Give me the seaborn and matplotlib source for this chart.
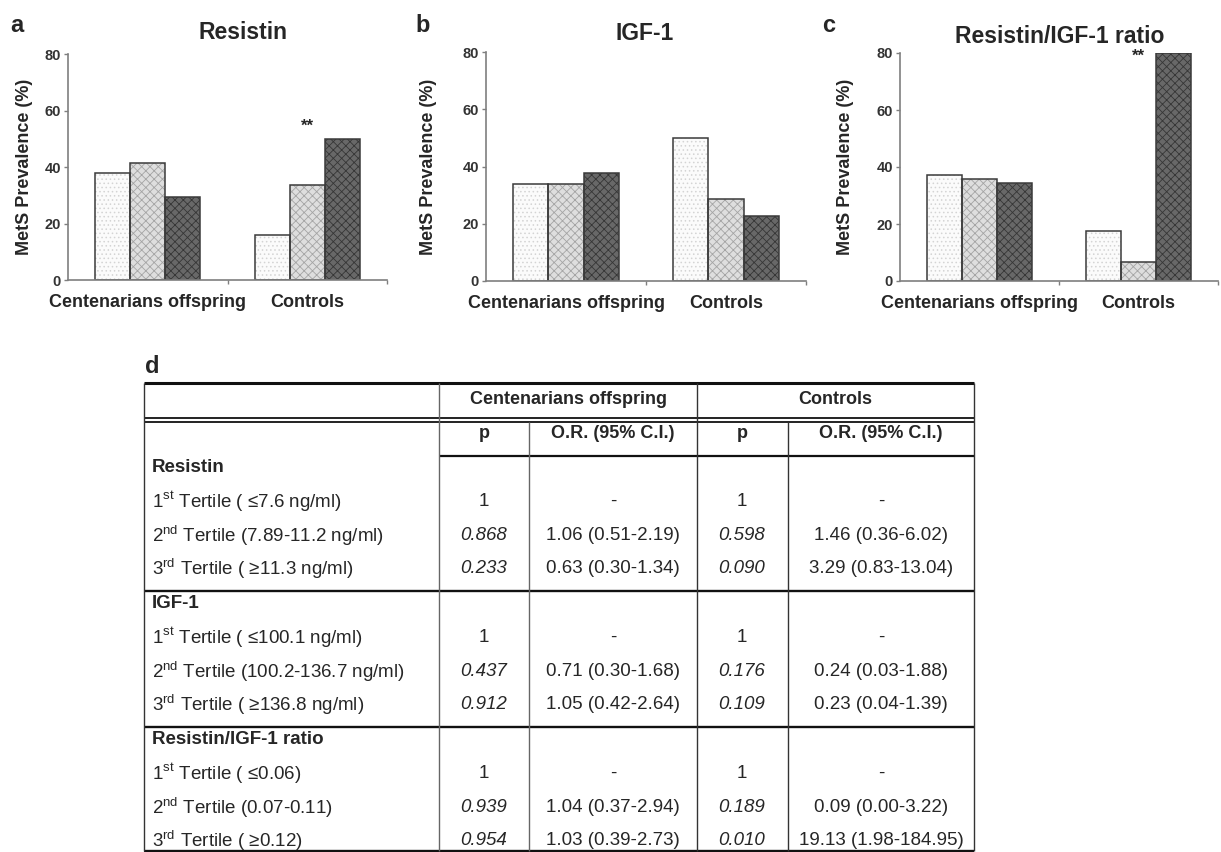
import numpy as np
import pandas as pd

import seaborn as sns
import matplotlib.pyplot as plt
from matplotlib.patches import Rectangle


# ---- bar chart data (MetS prevalence, %) ----
groups = ["Centenarians offspring", "Controls"]
tertiles = ["1st tertile", "2nd tertile", "3rd tertile"]

resistin_offspring = [37.8, 41.3, 29.3]
resistin_controls = [15.9, 33.6, 49.8]

igf1_offspring = [33.8, 33.8, 37.8]
igf1_controls = [49.8, 28.5, 22.7]

ratio_offspring = [37.2, 35.7, 34.5]
ratio_controls = [17.6, 6.8, 80.0]

panel_titles = ["Resistin", "IGF-1", "Resistin/IGF-1 ratio"]
panel_letters = ["a", "b", "c"]
y_ticks = [0, 20, 40, 60, 80]

# "**" marks: (group, tertile index, height) or None
star_marks = [("Controls", 1, 54.5), None, ("Controls", 1, 79)]

# ---- table data ----
markers = ["Resistin", "IGF-1", "Resistin/IGF-1 ratio"]
tertile_ranges = [
    ["( \u22647.6 ng/ml)", "(7.89-11.2 ng/ml)", "( \u226511.3 ng/ml)"],
    ["( \u2264100.1 ng/ml)", "(100.2-136.7 ng/ml)", "( \u2265136.8 ng/ml)"],
    ["( \u22640.06)", "(0.07-0.11)", "( \u22650.12)"],
]
offspring_p = [["1", "0.868", "0.233"], ["1", "0.437", "0.912"], ["1", "0.939", "0.954"]]
offspring_or = [
    ["-", "1.06 (0.51-2.19)", "0.63 (0.30-1.34)"],
    ["-", "0.71 (0.30-1.68)", "1.05 (0.42-2.64)"],
    ["-", "1.04 (0.37-2.94)", "1.03 (0.39-2.73)"],
]
controls_p = [["1", "0.598", "0.090"], ["1", "0.176", "0.109"], ["1", "0.189", "0.010"]]
controls_or = [
    ["-", "1.46 (0.36-6.02)", "3.29 (0.83-13.04)"],
    ["-", "0.24 (0.03-1.88)", "0.23 (0.04-1.39)"],
    ["-", "0.09 (0.00-3.22)", "19.13 (1.98-184.95)"],
]
ordinals = ["st", "nd", "rd"]


sns.set_style("white")
plt.rcParams["font.family"] = ["Liberation Sans", "DejaVu Sans"]
plt.rcParams["mathtext.fontset"] = "custom"
plt.rcParams["mathtext.rm"] = "Liberation Sans"
plt.rcParams["hatch.linewidth"] = 0.6

W, H = 1221, 852
fig = plt.figure(figsize=(W / 100, H / 100), dpi=100)
fig.patch.set_facecolor("white")


def px_rect(left, top, width, height):
    return [left / W, 1 - (top + height) / H, width / W, height / H]


fills = ["#fbfbfb", "#dedede", "#686868"]
hatches = ["....", "xxxx", "xxxx"]
hatch_colors = ["#d4d4d4", "#a4a4a4", "#363636"]

panel_rects = [(68, 54, 319, 226), (486, 52, 320, 229), (900, 53, 318, 228)]
title_pos = [(0.549, 1.093), (0.497, 1.079), (0.503, 1.072)]
ylabel_x = [-0.110, -0.153, -0.145]
letter_x = [10, 415, 822]

panel_data = [
    (resistin_offspring, resistin_controls),
    (igf1_offspring, igf1_controls),
    (ratio_offspring, ratio_controls),
]

for i, (offspring, controls) in enumerate(panel_data):

    ax = fig.add_axes(px_rect(*panel_rects[i]))

    df = pd.DataFrame({
        "group": np.repeat(groups, len(tertiles)),
        "tertile": tertiles * len(groups),
        "value": list(offspring) + list(controls),
    })

    sns.barplot(
        data=df,
        x="group",
        y="value",
        hue="tertile",
        order=groups,
        hue_order=tertiles,
        palette=fills,
        saturation=1,
        width=0.66,
        errorbar=None,
        legend=False,
        ax=ax,
    )

    for container, hatch, hcolor in zip(ax.containers, hatches, hatch_colors):
        for bar in container:
            bar.set_hatch(hatch)
            bar.set_edgecolor(hcolor)
            bar.set_linewidth(0)
            ax.add_patch(Rectangle(
                bar.get_xy(), bar.get_width(), bar.get_height(),
                fill=False, edgecolor="#3a3a3a", linewidth=1.1,
                zorder=bar.get_zorder() + 0.1,
            ))

    ax.set_xlim(-0.5, 1.5)
    ax.set_ylim(0, 80)
    ax.set_yticks(y_ticks)
    ax.set_xlabel("")
    ax.set_ylabel("MetS Prevalence (%)", fontsize=13, fontweight="bold")
    ax.yaxis.set_label_coords(ylabel_x[i], 0.5)

    for side in ["top", "right"]:
        ax.spines[side].set_visible(False)
    for side in ["left", "bottom"]:
        ax.spines[side].set_color("#7f7f7f")
        ax.spines[side].set_linewidth(1.2)

    ax.tick_params(axis="y", left=True, length=3, width=1, color="#7f7f7f",
                   labelsize=10.5, pad=2, labelcolor="#333333")
    ax.tick_params(axis="x", length=0, labelsize=13, pad=10)
    ax.set_xticks([0.5, 1.5], minor=True)
    ax.tick_params(axis="x", which="minor", bottom=True, length=3,
                   width=1, color="#7f7f7f")
    for lab in ax.get_yticklabels() + ax.get_xticklabels():
        lab.set_fontweight("bold")

    ax.text(title_pos[i][0], title_pos[i][1], panel_titles[i],
            transform=ax.transAxes, ha="center", va="center",
            fontsize=16.5, fontweight="bold")

    if star_marks[i] is not None:
        grp, k, yv = star_marks[i]
        bar = ax.containers[k][groups.index(grp)]
        ax.text(bar.get_x() + bar.get_width() / 2, yv, "**",
                ha="center", va="center", fontsize=12, fontweight="bold",
                clip_on=False)

    fig.text(letter_x[i] / W, 1 - 32 / H, panel_letters[i],
             fontsize=17, fontweight="bold", va="baseline")


# ---- table d ----
tab = fig.add_axes([0, 0, 1, 1], zorder=-1)
tab.set_xlim(0, W)
tab.set_ylim(H, 0)
tab.axis("off")

fig.text(145 / W, 1 - 373 / H, "d", fontsize=17, fontweight="bold",
         va="baseline")

left, right = 144, 974
c_split, c_p1, c_p2 = 439, 529, 788
c_mid = 697

line_kw = dict(colors="#111111")
tab.hlines(383, left, right, linewidth=2.2, **line_kw)
tab.hlines([418, 421.5], left, right, linewidth=1.3, **line_kw)
tab.hlines(456, c_split, right, linewidth=1.6, **line_kw)
tab.hlines([591, 727], left, right, linewidth=1.7, **line_kw)
tab.hlines(851, left, right, linewidth=1.7, **line_kw)
tab.vlines([left, right, c_mid], 383, 851, linewidth=1.0, colors="#333333")
tab.vlines(c_split, 383, 851, linewidth=1.0, colors="#666666")
tab.vlines(c_p1, 421.5, 851, linewidth=1.0, colors="#666666")
tab.vlines(c_p2, 421.5, 851, linewidth=1.0, colors="#333333")

x_p1, x_or1, x_p2, x_or2 = 484, 613, 742, 881
head_kw = dict(ha="center", va="center", fontsize=13, fontweight="bold")
tab.text((c_split + c_mid) / 2, 400, "Centenarians offspring", **head_kw)
tab.text((c_mid + right) / 2, 400, "Controls", **head_kw)
for x, s in [(x_p1, "p"), (x_or1, "O.R. (95% C.I.)"),
             (x_p2, "p"), (x_or2, "O.R. (95% C.I.)")]:
    tab.text(x, 434, s, **head_kw)

block_tops = [468, 604, 740]
row_h = 33.6
fs = 13.5
for b, marker in enumerate(markers):
    y0 = block_tops[b]
    tab.text(152, y0, marker, ha="left", va="center", fontsize=fs,
             fontweight="bold")
    for r in range(3):
        y = y0 + (r + 1) * row_h
        label = f"{r + 1}$^{{\\rm {ordinals[r]}}}$ Tertile {tertile_ranges[b][r]}"
        tab.text(152, y, label, ha="left", va="center", fontsize=fs)
        p_style = "normal" if r == 0 else "italic"
        tab.text(x_p1, y, offspring_p[b][r], ha="center", va="center",
                 fontsize=fs, style=p_style)
        tab.text(x_or1, y, offspring_or[b][r], ha="center", va="center",
                 fontsize=fs)
        tab.text(x_p2, y, controls_p[b][r], ha="center", va="center",
                 fontsize=fs, style=p_style)
        tab.text(x_or2, y, controls_or[b][r], ha="center", va="center",
                 fontsize=fs)

fig.savefig("out.png", dpi=100)
plt.close(fig)
